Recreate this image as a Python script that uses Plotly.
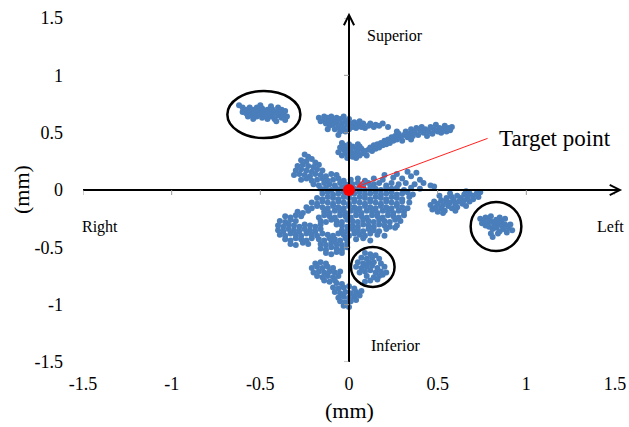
import plotly.graph_objects as go

# Displacement samples (mm): horizontal (Right -/Left +), vertical (Inferior -/Superior +)
cluster_upper_left = [
    (-0.62, 0.74), (-0.60, 0.72), (-0.58, 0.70), (-0.58, 0.67), (-0.56, 0.72), (-0.56, 0.68),
    (-0.55, 0.65), (-0.54, 0.70), (-0.53, 0.67), (-0.52, 0.72), (-0.52, 0.64), (-0.51, 0.69),
    (-0.50, 0.66), (-0.49, 0.71), (-0.49, 0.63), (-0.48, 0.68), (-0.47, 0.65), (-0.46, 0.70),
    (-0.46, 0.62), (-0.45, 0.67), (-0.44, 0.64), (-0.43, 0.70), (-0.43, 0.66), (-0.42, 0.62),
    (-0.41, 0.68), (-0.40, 0.65), (-0.40, 0.72), (-0.39, 0.67), (-0.38, 0.63), (-0.38, 0.70),
    (-0.37, 0.66), (-0.36, 0.61), (-0.36, 0.69), (-0.35, 0.64), (-0.54, 0.62), (-0.50, 0.74),
    (-0.44, 0.73), (-0.41, 0.60), (-0.60, 0.68), (-0.57, 0.64),
]

cluster_top_band = [
    (-0.17, 0.63), (-0.16, 0.60), (-0.14, 0.64), (-0.14, 0.61), (-0.13, 0.58), (-0.12, 0.63),
    (-0.11, 0.60), (-0.11, 0.56), (-0.10, 0.64), (-0.09, 0.61), (-0.09, 0.57), (-0.08, 0.53),
    (-0.07, 0.63), (-0.07, 0.59), (-0.06, 0.55), (-0.05, 0.62), (-0.05, 0.51), (-0.04, 0.58),
    (-0.03, 0.64), (-0.03, 0.54), (-0.02, 0.60), (-0.02, 0.51), (-0.01, 0.57), (0.00, 0.62),
    (0.00, 0.53), (0.01, 0.58), (0.02, 0.55), (0.03, 0.59), (0.04, 0.54), (0.05, 0.57),
    (0.07, 0.55), (0.08, 0.58), (0.09, 0.54), (0.11, 0.56), (0.12, 0.58), (0.14, 0.55),
    (0.15, 0.57), (0.17, 0.56), (0.19, 0.58), (0.22, 0.55), (-0.12, 0.53), (-0.06, 0.48),
    (0.06, 0.60),
]

cluster_mid_band = [
    (-0.06, 0.33), (-0.05, 0.37), (-0.04, 0.30), (-0.03, 0.35), (-0.03, 0.39), (-0.02, 0.32),
    (-0.01, 0.28), (-0.01, 0.36), (0.00, 0.40), (0.00, 0.31), (0.01, 0.34), (0.02, 0.29),
    (0.02, 0.38), (0.03, 0.32), (0.04, 0.36), (0.04, 0.28), (0.05, 0.40), (0.05, 0.33),
    (0.06, 0.30), (0.07, 0.36), (0.08, 0.32), (0.09, 0.34), (0.10, 0.30), (0.11, 0.35),
    (-0.04, 0.41), (0.06, 0.38),
    (0.12, 0.37), (0.13, 0.34), (0.14, 0.39), (0.15, 0.36), (0.16, 0.40), (0.17, 0.37),
    (0.18, 0.41), (0.19, 0.39), (0.20, 0.43), (0.21, 0.40), (0.22, 0.44), (0.23, 0.41),
    (0.24, 0.46), (0.25, 0.43), (0.26, 0.47), (0.27, 0.44), (0.28, 0.49), (0.29, 0.46),
    (0.30, 0.43), (0.31, 0.48), (0.32, 0.51), (0.33, 0.46), (0.34, 0.49), (0.35, 0.53),
    (0.36, 0.47), (0.37, 0.50), (0.38, 0.54), (0.39, 0.48), (0.40, 0.52), (0.41, 0.55),
    (0.42, 0.50), (0.43, 0.53), (0.44, 0.47), (0.45, 0.51), (0.46, 0.55), (0.47, 0.49),
    (0.48, 0.53), (0.49, 0.57), (0.50, 0.51), (0.51, 0.54), (0.52, 0.50), (0.53, 0.53),
    (0.54, 0.56), (0.55, 0.51), (0.56, 0.54), (0.57, 0.52), (0.58, 0.55), (0.35, 0.44),
    (0.27, 0.51),
]

cluster_central = [
    (-0.25, 0.31), (-0.23, 0.29),
    (-0.27, 0.26), (-0.24, 0.25), (-0.21, 0.27), (-0.19, 0.24),
    (-0.29, 0.21), (-0.26, 0.22), (-0.23, 0.21), (-0.20, 0.20), (-0.17, 0.22),
    (-0.30, 0.17), (-0.27, 0.18), (-0.24, 0.17), (-0.21, 0.16), (-0.18, 0.18), (-0.15, 0.17),
    (-0.31, 0.13), (-0.28, 0.14), (-0.25, 0.13), (-0.22, 0.12), (-0.19, 0.14), (-0.16, 0.13),
    (-0.13, 0.12), (-0.10, 0.14), (-0.07, 0.13),
    (-0.27, 0.09), (-0.24, 0.10), (-0.21, 0.08), (-0.18, 0.09), (-0.15, 0.10), (-0.12, 0.08),
    (-0.09, 0.09), (-0.06, 0.10), (-0.03, 0.08), (0.01, 0.09), (0.05, 0.10), (0.09, 0.08),
    (0.14, 0.10), (0.19, 0.09), (0.25, 0.11), (0.30, 0.10), (0.35, 0.12), (0.40, 0.09),
    (0.33, 0.16), (0.38, 0.15), (0.27, 0.14), (0.20, 0.13),
    (-0.20, 0.05), (-0.17, 0.04), (-0.14, 0.06), (-0.11, 0.05), (-0.08, 0.04), (-0.05, 0.06),
    (-0.02, 0.05), (0.02, 0.05), (0.05, 0.06), (0.08, 0.04), (0.11, 0.06), (0.14, 0.05),
    (0.17, 0.06), (0.21, 0.04), (0.24, 0.06), (0.28, 0.05), (0.32, 0.06), (0.37, 0.05),
    (0.42, 0.06), (0.46, 0.04),
    (-0.16, 0.01), (-0.13, 0.02), (-0.10, 0.00), (-0.07, 0.01), (-0.04, 0.02), (0.03, 0.01),
    (0.06, 0.02), (0.09, 0.00), (0.12, 0.02), (0.15, 0.01), (0.18, 0.00), (0.21, 0.02),
    (0.24, 0.01), (0.27, 0.02), (0.31, 0.00), (0.35, 0.02), (0.40, 0.01), (0.48, 0.03),
    (-0.15, -0.03), (-0.12, -0.02), (-0.09, -0.04), (-0.06, -0.03), (-0.03, -0.02), (0.00, -0.04),
    (0.03, -0.03), (0.06, -0.02), (0.09, -0.04), (0.12, -0.03), (0.15, -0.02), (0.18, -0.04),
    (0.21, -0.03), (0.24, -0.02), (0.27, -0.04), (0.30, -0.03), (0.33, -0.02), (0.36, -0.04),
    (-0.18, -0.07), (-0.15, -0.08), (-0.12, -0.06), (-0.09, -0.07), (-0.06, -0.08), (-0.03, -0.06),
    (0.00, -0.07), (0.03, -0.08), (0.06, -0.06), (0.09, -0.07), (0.12, -0.08), (0.15, -0.06),
    (0.18, -0.07), (0.21, -0.08), (0.24, -0.06), (0.27, -0.07), (0.30, -0.08), (0.34, -0.06),
    (-0.21, -0.11), (-0.18, -0.12), (-0.15, -0.10), (-0.12, -0.11), (-0.09, -0.12), (-0.06, -0.10),
    (-0.03, -0.11), (0.00, -0.12), (0.03, -0.10), (0.06, -0.11), (0.09, -0.12), (0.12, -0.10),
    (0.15, -0.11), (0.18, -0.12), (0.21, -0.10), (0.24, -0.11), (0.27, -0.12), (0.30, -0.10),
    (0.34, -0.11),
    (-0.24, -0.15), (-0.21, -0.16), (-0.18, -0.14), (-0.15, -0.15), (-0.12, -0.16), (-0.09, -0.14),
    (-0.06, -0.15), (-0.03, -0.16), (0.00, -0.14), (0.03, -0.15), (0.06, -0.16), (0.09, -0.14),
    (0.12, -0.15), (0.15, -0.16), (0.18, -0.14), (0.21, -0.15), (0.24, -0.16), (0.27, -0.14),
    (0.30, -0.15), (0.33, -0.16),
    (-0.29, -0.19), (-0.26, -0.20), (-0.23, -0.18), (-0.14, -0.19), (-0.11, -0.20), (-0.08, -0.18),
    (-0.05, -0.19), (-0.02, -0.20), (0.01, -0.18), (0.04, -0.19), (0.07, -0.20), (0.10, -0.18),
    (0.13, -0.19), (0.16, -0.20), (0.19, -0.18), (0.22, -0.19), (0.25, -0.20), (0.28, -0.18),
    (0.31, -0.19),
    (-0.36, -0.23), (-0.33, -0.24), (-0.30, -0.22), (-0.27, -0.23), (-0.17, -0.24), (-0.14, -0.22),
    (-0.11, -0.23), (-0.08, -0.24), (-0.05, -0.22), (-0.02, -0.23), (0.01, -0.24), (0.04, -0.22),
    (0.07, -0.23), (0.10, -0.24), (0.13, -0.22), (0.16, -0.23), (0.19, -0.24), (0.22, -0.22),
    (0.25, -0.23), (0.28, -0.24), (0.31, -0.22),
    (-0.39, -0.27), (-0.36, -0.28), (-0.33, -0.26), (-0.30, -0.27), (-0.16, -0.27), (-0.13, -0.28),
    (-0.10, -0.26), (-0.07, -0.27), (-0.04, -0.28), (-0.01, -0.26), (0.02, -0.27), (0.05, -0.28),
    (0.08, -0.26), (0.11, -0.27), (0.14, -0.28), (0.17, -0.26), (0.20, -0.27), (0.23, -0.28),
    (0.26, -0.26), (0.29, -0.27),
    (-0.40, -0.31), (-0.37, -0.32), (-0.34, -0.30), (-0.31, -0.31), (-0.28, -0.32), (-0.25, -0.30),
    (-0.22, -0.31), (-0.19, -0.32), (-0.16, -0.30), (-0.04, -0.31), (-0.01, -0.32), (-0.07, -0.30),
    (0.02, -0.31), (0.05, -0.32), (0.08, -0.30), (0.11, -0.31), (0.14, -0.32), (0.17, -0.30),
    (0.20, -0.31), (0.23, -0.32), (0.27, -0.31),
    (-0.40, -0.35), (-0.37, -0.36), (-0.34, -0.34), (-0.31, -0.35), (-0.28, -0.36), (-0.25, -0.34),
    (-0.22, -0.35), (-0.19, -0.36), (-0.16, -0.34), (-0.04, -0.35), (-0.01, -0.36), (0.02, -0.34),
    (0.05, -0.35), (0.08, -0.36), (0.11, -0.34), (0.14, -0.35), (0.17, -0.36), (0.21, -0.34),
    (0.26, -0.33),
    (-0.39, -0.39), (-0.36, -0.40), (-0.33, -0.38), (-0.30, -0.39), (-0.27, -0.40), (-0.24, -0.38),
    (-0.21, -0.39), (-0.18, -0.40), (-0.15, -0.38), (-0.12, -0.39), (-0.09, -0.40), (-0.06, -0.38),
    (-0.03, -0.39), (0.00, -0.40), (0.03, -0.38), (0.06, -0.39), (0.09, -0.40), (0.12, -0.38),
    (0.16, -0.39), (0.20, -0.40),
    (-0.36, -0.43), (-0.33, -0.44), (-0.30, -0.42), (-0.27, -0.43), (-0.24, -0.44), (-0.21, -0.42),
    (-0.17, -0.43), (-0.14, -0.44), (-0.11, -0.42), (-0.08, -0.43), (-0.05, -0.44), (-0.02, -0.42),
    (0.04, -0.43), (0.08, -0.42), (0.12, -0.44),
    (-0.33, -0.47), (-0.30, -0.48), (-0.26, -0.46), (-0.23, -0.47), (-0.16, -0.47), (-0.13, -0.48),
    (-0.10, -0.46), (-0.07, -0.47), (-0.04, -0.48), (-0.01, -0.46),
    (-0.16, -0.51), (-0.13, -0.52), (-0.10, -0.50), (-0.07, -0.51), (-0.04, -0.52), (-0.01, -0.50),
    (-0.13, -0.55), (-0.10, -0.56), (-0.07, -0.54), (-0.04, -0.55),
]

cluster_right_band = [
    (0.46, -0.13), (0.47, -0.17), (0.48, -0.10), (0.49, -0.15), (0.50, -0.19), (0.50, -0.12),
    (0.52, -0.09), (0.52, -0.16), (0.53, -0.13), (0.54, -0.18), (0.55, -0.10), (0.55, -0.07),
    (0.56, -0.14), (0.57, -0.11), (0.58, -0.16), (0.58, -0.06), (0.59, -0.09), (0.60, -0.13),
    (0.61, -0.05), (0.61, -0.15), (0.62, -0.10), (0.63, -0.07), (0.64, -0.12), (0.65, -0.04),
    (0.65, -0.09), (0.66, -0.14), (0.67, -0.06), (0.68, -0.03), (0.68, -0.10), (0.70, -0.05),
    (0.70, -0.08), (0.72, -0.03), (0.73, -0.06), (0.74, -0.02), (0.51, -0.05), (0.60, -0.18),
    (0.53, -0.20), (0.66, -0.01), (0.57, -0.03),
]

cluster_far_left = [
    (0.74, -0.25), (0.76, -0.27), (0.77, -0.24), (0.78, -0.29), (0.79, -0.26), (0.79, -0.32),
    (0.80, -0.23), (0.81, -0.28), (0.81, -0.34), (0.82, -0.30), (0.83, -0.26), (0.83, -0.33),
    (0.84, -0.29), (0.85, -0.36), (0.86, -0.31), (0.86, -0.27), (0.87, -0.34), (0.88, -0.30),
    (0.89, -0.37), (0.90, -0.33), (0.91, -0.30), (0.92, -0.35), (0.80, -0.38), (0.81, -0.41),
    (0.84, -0.38), (0.77, -0.31), (0.75, -0.29), (0.88, -0.25), (0.85, -0.24),
]

cluster_lower_left = [
    (0.09, -0.55), (0.12, -0.56), (0.15, -0.57), (0.07, -0.59), (0.10, -0.60), (0.13, -0.59),
    (0.17, -0.60), (0.05, -0.63), (0.08, -0.64), (0.11, -0.63), (0.14, -0.63), (0.18, -0.64),
    (0.04, -0.67), (0.07, -0.68), (0.10, -0.67), (0.13, -0.66), (0.16, -0.68), (0.20, -0.67),
    (0.06, -0.72), (0.09, -0.71), (0.12, -0.70), (0.15, -0.72), (0.18, -0.71), (0.21, -0.72),
    (0.10, -0.75), (0.14, -0.76), (0.17, -0.75), (0.12, -0.79), (0.09, -0.80), (0.16, -0.78),
    (0.19, -0.74),
]

cluster_inferior = [
    (-0.19, -0.64), (-0.16, -0.63), (-0.13, -0.64), (-0.21, -0.68), (-0.18, -0.67), (-0.15, -0.68),
    (-0.12, -0.67), (-0.09, -0.68), (-0.20, -0.72), (-0.17, -0.71), (-0.14, -0.72), (-0.11, -0.71),
    (-0.08, -0.72), (-0.05, -0.71), (-0.18, -0.75), (-0.15, -0.76), (-0.12, -0.75), (-0.09, -0.76),
    (-0.06, -0.75), (-0.14, -0.79), (-0.11, -0.80), (-0.08, -0.79),
    (-0.07, -0.81), (-0.04, -0.82), (-0.09, -0.85), (-0.06, -0.86), (-0.03, -0.85), (0.00, -0.84),
    (0.03, -0.86), (-0.08, -0.89), (-0.05, -0.90), (-0.02, -0.89), (0.01, -0.90), (0.04, -0.89),
    (0.07, -0.88), (-0.06, -0.94), (-0.03, -0.93), (0.00, -0.94), (0.03, -0.93), (0.06, -0.92),
    (-0.05, -0.97), (-0.02, -0.98), (0.01, -0.97), (0.04, -0.96), (-0.03, -1.01), (0.00, -1.02),
]

target_x = [0.0]
target_y = [0.0]

axis_ticks = [-1.5, -1, -0.5, 0, 0.5, 1, 1.5]
axis_tick_text = ["-1.5", "-1", "-0.5", "0", "0.5", "1", "1.5"]

all_points = (cluster_upper_left + cluster_top_band + cluster_mid_band + cluster_central
              + cluster_right_band + cluster_far_left + cluster_lower_left + cluster_inferior)
px = [p[0] for p in all_points]
py = [p[1] for p in all_points]

SERIF = "Liberation Serif, Times New Roman, serif"
BLUE = "#4a7ebb"

fig = go.Figure()
fig.add_trace(go.Scatter(x=px, y=py, mode="markers",
                         marker=dict(color=BLUE, size=6, line=dict(width=0)),
                         hoverinfo="skip", showlegend=False))

# crossing axes through the origin
lo, hi = axis_ticks[0], axis_ticks[-1]
fig.add_trace(go.Scatter(x=[lo, hi], y=[0, 0], mode="lines",
                         line=dict(color="black", width=2), showlegend=False, hoverinfo="skip"))
fig.add_trace(go.Scatter(x=[0, 0], y=[lo, hi], mode="lines",
                         line=dict(color="black", width=2), showlegend=False, hoverinfo="skip"))

fig.add_trace(go.Scatter(x=target_x, y=target_y, mode="markers",
                         marker=dict(color="#ff0000", size=12), showlegend=False, hoverinfo="skip"))

# small tick marks on the crossing axes
shapes = []
for t in axis_ticks:
    if t == 0:
        continue
    shapes.append(dict(type="line", xref="x", yref="y", x0=t, x1=t,
                       ysizemode="pixel", yanchor=0, y0=-5, y1=0,
                       line=dict(color="#9a9a9a", width=1)))
    shapes.append(dict(type="line", xref="x", yref="y", y0=t, y1=t,
                       xsizemode="pixel", xanchor=0, x0=-5, x1=0,
                       line=dict(color="#9a9a9a", width=1)))

# outlier groups marked with ellipses
for cx, cy, rx, ry in [(-0.48, 0.658, 0.206, 0.205),
                       (0.134, -0.671, 0.123, 0.174),
                       (0.829, -0.318, 0.143, 0.214)]:
    shapes.append(dict(type="circle", xref="x", yref="y",
                       x0=cx - rx, x1=cx + rx, y0=cy - ry, y1=cy + ry,
                       line=dict(color="black", width=2.5)))

LABEL = dict(family=SERIF, size=16, color="black")
annotations = [
    # arrow heads of the axes
    dict(x=1.54, y=0, ax=1.40, ay=0, xref="x", yref="y", axref="x", ayref="y",
         text="", showarrow=True, arrowhead=5, arrowsize=1, arrowwidth=2, arrowcolor="black"),
    dict(x=0, y=1.545, ax=0, ay=1.40, xref="x", yref="y", axref="x", ayref="y",
         text="", showarrow=True, arrowhead=5, arrowsize=1, arrowwidth=2, arrowcolor="black"),
    # pointer to the target
    dict(x=0.04, y=0.025, ax=0.79, ay=0.455, xref="x", yref="y", axref="x", ayref="y",
         text="", showarrow=True, arrowhead=5, arrowsize=1.5, arrowwidth=1, arrowcolor="#ff2020"),
    dict(x=0.835, y=0.45, xref="x", yref="y", text="Target point", showarrow=False,
         xanchor="left", yanchor="middle", font=dict(family=SERIF, size=23, color="black")),
    dict(x=0.257, y=1.343, xref="x", yref="y", text="Superior", showarrow=False, font=LABEL),
    dict(x=0.263, y=-1.36, xref="x", yref="y", text="Inferior", showarrow=False, font=LABEL),
    dict(x=-1.405, y=-0.32, xref="x", yref="y", text="Right", showarrow=False, font=LABEL),
    dict(x=1.475, y=-0.32, xref="x", yref="y", text="Left", showarrow=False, font=LABEL),
    # axis titles
    dict(x=0, y=410, xref="x", yref="paper", text="(mm)", showarrow=False,
         font=dict(family=SERIF, size=22, color="black")),
    dict(x=22, y=190, xref="paper", yref="paper", text="(mm)", showarrow=False,
         textangle=-90, font=dict(family=SERIF, size=22, color="black")),
]
# place the titles by pixel position within the page
annotations[-2].update(y=(427 - 65 - 410) / (427 - 18 - 65), yanchor="middle")
annotations[-1].update(x=(21 - 83) / (629 - 83 - 14), y=(427 - 65 - 190) / (427 - 18 - 65),
                       xanchor="center", yanchor="middle")

fig.update_layout(
    width=629, height=427,
    margin=dict(l=83, r=14, t=18, b=65),
    paper_bgcolor="white", plot_bgcolor="white",
    shapes=shapes, annotations=annotations,
    xaxis=dict(range=[lo, hi], tickvals=axis_ticks, ticktext=axis_tick_text,
               showgrid=False, zeroline=False, showline=False, ticks="",
               automargin=False, ticklabelstandoff=9,
               tickfont=dict(family=SERIF, size=18, color="black")),
    yaxis=dict(range=[lo, hi], tickvals=axis_ticks, ticktext=axis_tick_text,
               showgrid=False, zeroline=False, showline=False, ticks="",
               automargin=False, ticklabelstandoff=19,
               tickfont=dict(family=SERIF, size=18, color="black")),
    showlegend=False,
)

fig.write_html("out.html")
